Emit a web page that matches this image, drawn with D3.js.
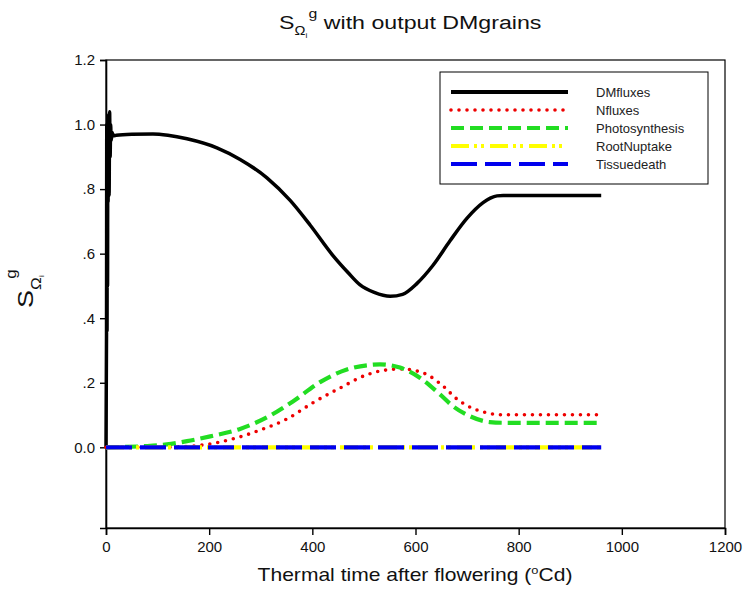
<!DOCTYPE html>
<html>
<head>
<meta charset="utf-8">
<script src="https://cdn.jsdelivr.net/npm/d3@7"></script>
<style>
  html, body { margin: 0; padding: 0; background: #fff; }
  svg { display: block; font-family: "Liberation Sans", Arial, sans-serif; }
</style>
</head>
<body>
<svg id="chart" width="745" height="590"></svg>
<script>
// Sensitivity of grain dry matter to each flux, by thermal time after flowering
const seriesNames = ["DMfluxes", "Nfluxes", "Photosynthesis", "RootNuptake", "Tissuedeath"];

const dmTime  = [0, 1, 1.5, 2, 2.5, 3, 3.5, 4, 5, 6, 7, 8, 9, 10, 12, 14, 20, 50, 91, 120, 157, 215, 260, 312, 357, 396, 440, 470, 492, 520, 551, 575, 603, 634, 667, 700, 731, 745, 758, 770, 960];
const dmValue = [0, 0.35, 1.0, 0.36, 0.98, 0.5, 1.0, 0.76, 1.03, 0.78, 1.04, 0.90, 1.0, 0.95, 0.975, 0.965, 0.967, 0.970, 0.971, 0.967, 0.956, 0.928, 0.892, 0.835, 0.765, 0.688, 0.594, 0.540, 0.504, 0.480, 0.468, 0.474, 0.508, 0.564, 0.640, 0.710, 0.758, 0.772, 0.779, 0.780, 0.780];

const nTime  = [0, 100, 150, 182, 246, 298, 351, 401, 454, 506, 525, 551, 575, 596, 625, 654, 680, 709, 738, 764, 960];
const nValue = [0, 0, 0.002, 0.006, 0.026, 0.053, 0.088, 0.138, 0.184, 0.225, 0.234, 0.241, 0.243, 0.239, 0.223, 0.189, 0.150, 0.122, 0.107, 0.101, 0.101];

const phTime  = [0, 27, 80, 118, 157, 202, 260, 318, 363, 415, 467, 518, 531, 570, 609, 648, 673, 706, 744, 770, 960];
const phValue = [0, 0.001, 0.004, 0.009, 0.019, 0.034, 0.057, 0.098, 0.143, 0.202, 0.241, 0.256, 0.257, 0.247, 0.215, 0.163, 0.127, 0.096, 0.078, 0.076, 0.076];

const rootTime  = [0, 960];
const rootValue = [0, 0];

const tissueTime  = [0, 960];
const tissueValue = [0, 0];

const xTicks = [0, 200, 400, 600, 800, 1000, 1200];
const yTicks = [0, 0.2, 0.4, 0.6, 0.8, 1.0, 1.2];
const yTickLabels = ["0.0", ".2", ".4", ".6", ".8", "1.0", "1.2"];

const styles = [
  { color: "#000000", width: 3.5, dash: null, cap: "butt" },
  { color: "#ee0000", width: 3.6, dash: "0,8", cap: "round" },
  { color: "#22dd22", width: 4.2, dash: "13,6", cap: "butt" },
  { color: "#ffff00", width: 4.2, dash: "18,5,3,4,3,6", cap: "butt" },
  { color: "#0000ee", width: 4.2, dash: "26,8", cap: "butt" }
];

const series = [
  { t: dmTime, v: dmValue },
  { t: nTime, v: nValue },
  { t: phTime, v: phValue },
  { t: rootTime, v: rootValue },
  { t: tissueTime, v: tissueValue }
];

const svg = d3.select("#chart");
const plot = { left: 106, right: 725, top: 60, bottom: 528 };

const x = d3.scaleLinear().domain([0, 1200]).range([plot.left, plot.right]);
const y = d3.scaleLinear().domain([-0.25, 1.2]).range([plot.bottom, plot.top]);

// frame
svg.append("rect")
  .attr("x", plot.left).attr("y", plot.top)
  .attr("width", plot.right - plot.left).attr("height", plot.bottom - plot.top)
  .attr("fill", "none").attr("stroke", "#000").attr("stroke-width", 1.2);

// axes
const xAxis = d3.axisBottom(x).tickValues(xTicks).tickSize(7).tickPadding(6).tickFormat(d3.format("d"));
const gx = svg.append("g").attr("transform", `translate(0,${plot.bottom})`).call(xAxis);
gx.select(".domain").attr("stroke-width", 1.6);
gx.selectAll(".tick line").attr("stroke-width", 1.4);
gx.selectAll("text").attr("font-size", 15).attr("font-family", "Liberation Sans, Arial, sans-serif").attr("fill", "#111");

const yAxis = d3.axisLeft(y).tickValues(yTicks).tickSize(6).tickPadding(5)
  .tickFormat((d, i) => yTickLabels[i]);
const gy = svg.append("g").attr("transform", `translate(${plot.left},0)`).call(yAxis);
gy.select(".domain").attr("stroke-width", 1.6);
gy.selectAll(".tick line").attr("stroke-width", 1.4);
gy.selectAll("text").attr("font-size", 15).attr("font-family", "Liberation Sans, Arial, sans-serif").attr("fill", "#111");

// series lines
const line = d3.line().curve(d3.curveMonotoneX);
series.forEach((s, i) => {
  const pts = s.t.map((t, k) => [x(t), y(s.v[k])]);
  const st = styles[i];
  const p = svg.append("path")
    .attr("d", line(pts))
    .attr("fill", "none")
    .attr("stroke", st.color)
    .attr("stroke-width", st.width)
    .attr("stroke-linecap", st.cap)
    .attr("stroke-linejoin", "round");
  if (st.dash) p.attr("stroke-dasharray", st.dash);
});

// legend
const leg = { x: 440, y: 72, w: 268, h: 112 };
svg.append("rect")
  .attr("x", leg.x).attr("y", leg.y).attr("width", leg.w).attr("height", leg.h)
  .attr("fill", "#fff").attr("stroke", "#000").attr("stroke-width", 1);
seriesNames.forEach((name, i) => {
  const yy = 92 + i * 18;
  const st = styles[i];
  const l = svg.append("line")
    .attr("x1", 451).attr("x2", 568).attr("y1", yy).attr("y2", yy)
    .attr("stroke", st.color).attr("stroke-width", i === 0 ? 4.2 : st.width)
    .attr("stroke-linecap", st.cap);
  if (st.dash) l.attr("stroke-dasharray", st.dash);
  svg.append("text")
    .attr("x", 596).attr("y", yy).attr("dy", "0.35em")
    .attr("font-size", 13).attr("fill", "#222")
    .text(name);
});

// title
const title = svg.append("text")
  .attr("transform", "translate(279,29) scale(1.22,1)")
  .attr("font-size", 19).attr("fill", "#111");
title.append("tspan").text("S");
title.append("tspan").attr("dy", 6).attr("font-size", 12).text("Ω");
title.append("tspan").attr("dy", 3).attr("font-size", 7).text("i");
title.append("tspan").attr("dy", -20).attr("dx", 1).attr("font-size", 13).text("g");
title.append("tspan").attr("dy", 11).text(" with output DMgrains");

// y axis label
const ylab = svg.append("text")
  .attr("transform", "translate(33,308) rotate(-90) scale(1.22,1)")
  .attr("font-size", 22).attr("fill", "#111");
ylab.append("tspan").text("S");
ylab.append("tspan").attr("dy", 8).attr("font-size", 14).text("Ω");
ylab.append("tspan").attr("dy", 3).attr("font-size", 8).text("i");
ylab.append("tspan").attr("dy", -28).attr("dx", -3).attr("font-size", 14).text("g");

// x axis label
const xlab = svg.append("text")
  .attr("transform", "translate(415,581) scale(1.17,1)")
  .attr("text-anchor", "middle")
  .attr("font-size", 18).attr("fill", "#111");
xlab.append("tspan").text("Thermal time after flowering (");
xlab.append("tspan").attr("dy", -7).attr("font-size", 11).text("o");
xlab.append("tspan").attr("dy", 7).text("Cd)");
</script>
</body>
</html>
